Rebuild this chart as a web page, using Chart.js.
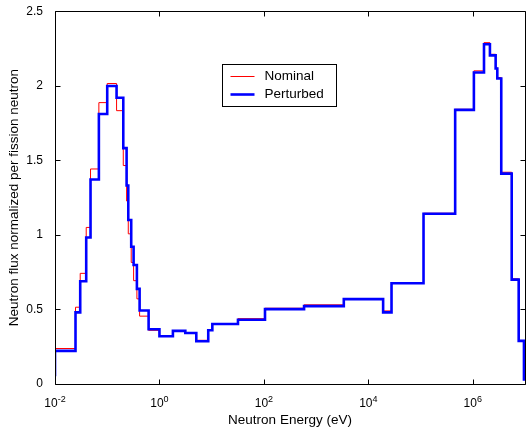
<!DOCTYPE html>
<html>
<head>
<meta charset="utf-8">
<script src="https://cdn.jsdelivr.net/npm/chart.js@4"></script>
<style>
html, body { margin: 0; padding: 0; background: #fff; }
</style>
</head>
<body>
<canvas id="chart-1" width="528" height="430"></canvas>
<script>
// lower energy bound of each group (eV), last group ends at groupEnd
const groupStart = [0.005, 0.01, 0.0247, 0.0304, 0.0396, 0.0479, 0.0692, 0.1, 0.151, 0.203,
    0.235, 0.253, 0.288, 0.32, 0.37, 0.417, 0.62, 1.0, 1.81, 3.13,
    5.08, 8.6, 10.3, 31.9, 105, 588, 3390, 19200, 27800, 114000,
    460000, 1.05e6, 1.64e6, 2.13e6, 2.74e6, 2.95e6, 3.51e6, 5.56e6, 7.57e6, 9.55e6];
const groupEnd = 1.2e7;

const nominal = [0.06, 0.238, 0.515, 0.742, 1.05, 1.442, 1.887, 2.015, 1.833, 1.465,
    1.227, 1.007, 0.815, 0.693, 0.571, 0.455, 0.36, 0.32, 0.356, 0.342,
    0.293, 0.36, 0.402, 0.438, 0.508, 0.531, 0.572, 0.49, 0.68, 1.145,
    1.842, 2.1, 2.289, 2.211, 2.12, 2.055, 1.42, 0.705, 0.29, 0.03];

const perturbed = [0.06, 0.222, 0.48, 0.689, 0.982, 1.371, 1.811, 1.998, 1.92, 1.582,
    1.331, 1.10, 0.92, 0.798, 0.638, 0.493, 0.367, 0.32, 0.356, 0.342,
    0.287, 0.36, 0.402, 0.431, 0.502, 0.522, 0.569, 0.48, 0.676, 1.142,
    1.838, 2.089, 2.278, 2.204, 2.116, 2.049, 1.411, 0.70, 0.289, 0.03];

const xTickPowers = [-2, 0, 2, 4, 6];
const yTicks = [0, 0.5, 1, 1.5, 2, 2.5];

const FONT = "'Liberation Sans', Arial, sans-serif";

function toSteps(values) {
    var pts = groupStart.map((e, i) => ({x: e, y: values[i]}));
    pts.push({x: groupEnd, y: values[values.length - 1]});
    return pts;
}

// box, inward ticks, 10^n labels and legend, MATLAB style
const framePlugin = {
    id: 'frame',
    afterDraw(chart) {
        const ctx = chart.ctx;
        const a = chart.chartArea;
        const xs = chart.scales.x;
        const ys = chart.scales.y;
        const L = Math.round(a.left) + 0.5, R = Math.round(a.right) + 0.5;
        const T = Math.round(a.top) + 0.5, B = Math.round(a.bottom) + 0.5;
        const tl = 5;
        ctx.save();
        ctx.strokeStyle = '#000';
        ctx.lineWidth = 1;
        ctx.beginPath();
        ctx.rect(L, T, R - L, B - T);
        xTickPowers.forEach(p => {
            const x = Math.round(xs.getPixelForValue(Math.pow(10, p))) + 0.5;
            ctx.moveTo(x, B); ctx.lineTo(x, B - tl);
            ctx.moveTo(x, T); ctx.lineTo(x, T + tl);
        });
        yTicks.forEach(v => {
            const y = Math.round(ys.getPixelForValue(v)) + 0.5;
            ctx.moveTo(L, y); ctx.lineTo(L + tl, y);
            ctx.moveTo(R, y); ctx.lineTo(R - tl, y);
        });
        ctx.stroke();

        // x tick labels 10^n
        ctx.fillStyle = '#000';
        ctx.textBaseline = 'alphabetic';
        ctx.textAlign = 'left';
        xTickPowers.forEach(p => {
            const x = xs.getPixelForValue(Math.pow(10, p));
            ctx.font = '12px ' + FONT;
            const wb = ctx.measureText('10').width;
            ctx.font = '9px ' + FONT;
            const ex = String(p);
            const we = ctx.measureText(ex).width;
            const x0 = x - (wb + we) / 2;
            ctx.font = '12px ' + FONT;
            ctx.fillText('10', x0, B + 22);
            ctx.font = '9px ' + FONT;
            ctx.fillText(ex, x0 + wb, B + 17);
        });

        // legend box
        const lx = 222.5, ly = 64.5, lw = 114, lh = 42;
        ctx.fillStyle = '#fff';
        ctx.fillRect(lx, ly, lw, lh);
        ctx.strokeStyle = '#000';
        ctx.lineWidth = 1;
        ctx.strokeRect(lx, ly, lw, lh);
        ctx.font = '13.5px ' + FONT;
        ctx.textBaseline = 'middle';
        chart.data.datasets.slice().reverse().forEach((ds, i) => {
            const yy = ly + 12 + i * 18;
            ctx.strokeStyle = ds.borderColor;
            ctx.lineWidth = ds.borderWidth;
            ctx.beginPath();
            ctx.moveTo(lx + 8, yy);
            ctx.lineTo(lx + 32, yy);
            ctx.stroke();
            ctx.fillStyle = '#000';
            ctx.fillText(ds.label, lx + 42, yy);
        });
        ctx.restore();
    }
};

new Chart(document.getElementById('chart-1'), {
    type: 'line',
    data: {
        datasets: [
            {
                label: 'Perturbed',
                data: toSteps(perturbed),
                borderColor: '#0000ff',
                borderWidth: 2.6,
                stepped: 'before',
                pointRadius: 0,
                fill: false,
                borderJoinStyle: 'miter',
                borderCapStyle: 'butt'
            },
            {
                label: 'Nominal',
                data: toSteps(nominal),
                borderColor: '#ff0000',
                borderWidth: 1,
                stepped: 'before',
                pointRadius: 0,
                fill: false,
                borderJoinStyle: 'miter',
                borderCapStyle: 'butt'
            }
        ]
    },
    options: {
        responsive: false,
        animation: false,
        layout: {
            padding: {top: 9, right: 3, left: 0, bottom: 0}
        },
        plugins: {
            legend: {display: false},
            tooltip: {enabled: false}
        },
        scales: {
            x: {
                type: 'logarithmic',
                min: 0.01,
                max: 1e7,
                afterBuildTicks: s => {
                    s.ticks = xTickPowers.map(p => ({value: Math.pow(10, p)}));
                },
                afterFit: s => { s.height = 46; },
                grid: {display: false},
                border: {display: false},
                ticks: {display: false},
                title: {
                    display: true,
                    text: 'Neutron Energy (eV)',
                    color: '#000',
                    font: {family: FONT, size: 13.5},
                    padding: {top: 0, bottom: 2}
                }
            },
            y: {
                min: 0,
                max: 2.5,
                afterBuildTicks: s => {
                    s.ticks = yTicks.map(v => ({value: v}));
                },
                afterFit: s => { s.width = 55; },
                grid: {display: false},
                border: {display: false},
                ticks: {
                    color: '#000',
                    font: {family: FONT, size: 12},
                    padding: 4,
                    callback: v => String(v)
                },
                title: {
                    display: true,
                    text: 'Neutron flux normalized per fission neutron',
                    color: '#000',
                    font: {family: FONT, size: 13.5},
                    padding: {top: 6, bottom: 0}
                }
            }
        }
    },
    plugins: [framePlugin]
});
</script>
</body>
</html>
